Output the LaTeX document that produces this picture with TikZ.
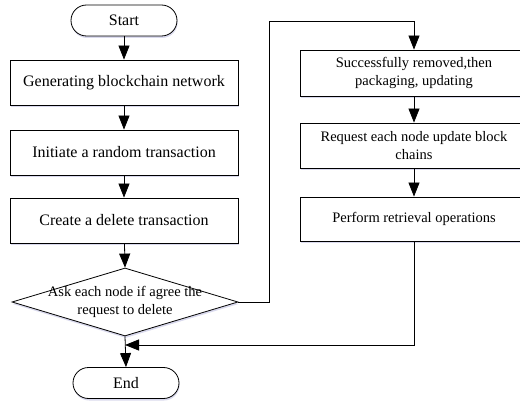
\documentclass[tikz,border=0pt]{standalone}
\usepackage{fontspec}
\setmainfont{Liberation Serif}
\usetikzlibrary{arrows.meta,shadows,shapes.geometric}

\tikzset{
  softshadow/.style={drop shadow={shadow xshift=0.6pt, shadow yshift=-2pt, fill=blue!35!gray, opacity=0.22}},
  procbox/.style={draw, line width=0.8pt, fill=white, softshadow, minimum width=228pt, inner sep=2pt,
    align=center, font=\fontsize{16}{19}\selectfont},
  sidebox/.style={procbox, font=\fontsize{14.5}{18}\selectfont},
  terminal/.style={draw, line width=0.8pt, fill=white, softshadow, rounded corners=15.5pt,
    minimum width=106pt, minimum height=31pt, font=\fontsize{16}{19}\selectfont},
  decision/.style={draw, diamond, line width=0.8pt, fill=white, softshadow, inner sep=0pt,
    minimum width=226pt, minimum height=68pt},
  flow/.style={line width=0.8pt, -{Triangle[length=14pt,width=11pt]}},
  wire/.style={line width=0.8pt}
}

\begin{document}
\begin{tikzpicture}[x=1pt, y=-1pt]
  \useasboundingbox (0,0) rectangle (520,401);
  \clip (0,0) rectangle (520,401);

  % main column
  \node[terminal] (start) at (124,20.5) {Start};
  \node[procbox, minimum height=45pt] (gen) at (124,82.5) {Generating blockchain network};
  \node[procbox, minimum height=45pt] (init) at (124,152.5) {Initiate a random transaction};
  \node[procbox, minimum height=45pt] (del) at (124,220.5) {Create a delete transaction};
  \node[decision, label={[align=center, font=\fontsize{14.5}{18}\selectfont]center:Ask each node if agree the\\request to delete}] (ask) at (125,302) {};
  \node[terminal] (end) at (126,383) {End};

  % side column
  \node[sidebox, minimum height=46pt] (removed) at (414,73) {Successfully removed,then\\packaging, updating};
  \node[sidebox, minimum height=45pt] (update) at (414,145.5) {Request each node update block\\chains};
  \node[sidebox, minimum height=44pt] (retrieve) at (414,219) {Perform retrieval operations};

  % routing points
  \coordinate (loopup) at (269,21);
  \coordinate (join) at (125,345);

  % connectors
  \draw[flow] (start) -- (gen);
  \draw[flow] (gen) -- (init);
  \draw[flow] (init) -- (del);
  \draw[flow] (del) -- (ask.north);
  \draw[flow] (ask.south) -- (end.north);
  \draw[flow] (ask.east) -| (loopup) -| (removed.north);
  \draw[flow] (removed) -- (update);
  \draw[flow] (update) -- (retrieve);
  \draw[flow] (retrieve.south) |- (join);
\end{tikzpicture}
\end{document}
